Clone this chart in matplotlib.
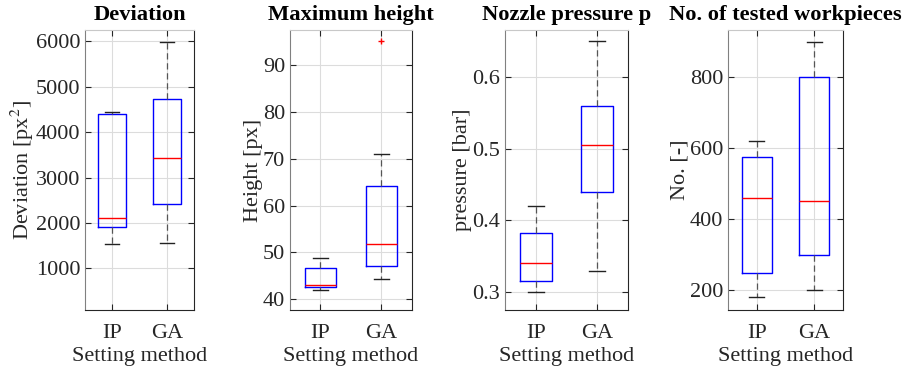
import matplotlib
matplotlib.use("Agg")
import matplotlib.pyplot as plt

plt.rcParams['font.family'] = ['Liberation Serif', 'DejaVu Serif']
plt.rcParams['mathtext.fontset'] = 'stix'

methods = ['IP', 'GA']

# box statistics: low whisker, q1, median, q3, high whisker
dev_ip = [1530, 1910, 2100, 4400, 4450]
dev_ga = [1565, 2410, 3440, 4730, 5980]
height_ip = [42.0, 42.6, 43.1, 46.6, 48.7]
height_ga = [44.4, 47.0, 51.7, 64.1, 71.0]
height_ga_out = [95.1]
press_ip = [0.300, 0.315, 0.340, 0.382, 0.420]
press_ga = [0.330, 0.440, 0.505, 0.560, 0.650]
count_ip = [180, 247, 459, 575, 620]
count_ga = [200, 300, 450, 800, 900]

titles = ['Deviation', 'Maximum height', 'Nozzle pressure p', 'No. of tested workpieces']
ylabels = ['Deviation [px$^2$]', 'Height [px]', 'pressure [bar]', 'No. [-]']
ylims = [(83, 6250), (37.7, 97.5), (0.275, 0.666), (144, 933)]
yticks = [[1000, 2000, 3000, 4000, 5000, 6000], [40, 50, 60, 70, 80, 90],
          [0.3, 0.4, 0.5, 0.6], [200, 400, 600, 800]]
data = [(dev_ip, dev_ga, [], []), (height_ip, height_ga, [], height_ga_out),
        (press_ip, press_ga, [], []), (count_ip, count_ga, [], [])]

# axes boxes in pixels (left, right)
spans = [(85, 194), (290, 412), (505, 628), (728, 843)]
W, H = 904, 372

fig = plt.figure(figsize=(W / 100, H / 100), dpi=100)

for i in range(4):
    l, r = spans[i]
    ax = fig.add_axes([l / W, 1 - 310 / H, (r - l) / W, 280 / H])
    a, b, fa, fb = data[i]
    stats = []
    for s, fl, lab in [(a, fa, methods[0]), (b, fb, methods[1])]:
        stats.append(dict(whislo=s[0], q1=s[1], med=s[2], q3=s[3], whishi=s[4],
                          fliers=fl, label=lab))
    ax.bxp(stats, positions=[1, 2], widths=0.52, showfliers=True,
           boxprops=dict(color='#0000ff', linewidth=1.0),
           medianprops=dict(color='#ff0000', linewidth=1.0),
           whiskerprops=dict(color='#555555', linestyle=(0, (5, 3)), linewidth=0.9),
           capprops=dict(color='#222222', linewidth=1.0),
           flierprops=dict(marker='+', markeredgecolor='#ff0000', markersize=5,
                           linestyle='none'))
    ax.set_xlim(0.5, 2.5)
    ax.set_ylim(*ylims[i])
    ax.set_yticks(yticks[i])
    ax.set_title(titles[i], fontsize=16.2, fontweight='bold', pad=7)
    ax.set_ylabel(ylabels[i], fontsize=16, color='#262626', labelpad=0)
    ax.set_xlabel('Setting method', fontsize=16, color='#262626', labelpad=3)
    ax.grid(True, color='#dcdcdc', linewidth=0.8)
    ax.set_axisbelow(True)
    ax.tick_params(direction='in', length=4, labelsize=16, colors='#262626',
                   right=True, top=True, width=0.8)
    ax.tick_params(axis='x', pad=10)
    for name, sp in ax.spines.items():
        sp.set_linewidth(0.8)
        sp.set_color({'top': '#c8c8c8', 'left': '#808080'}.get(name, '#262626'))

fig.savefig('out.png', dpi=100)
